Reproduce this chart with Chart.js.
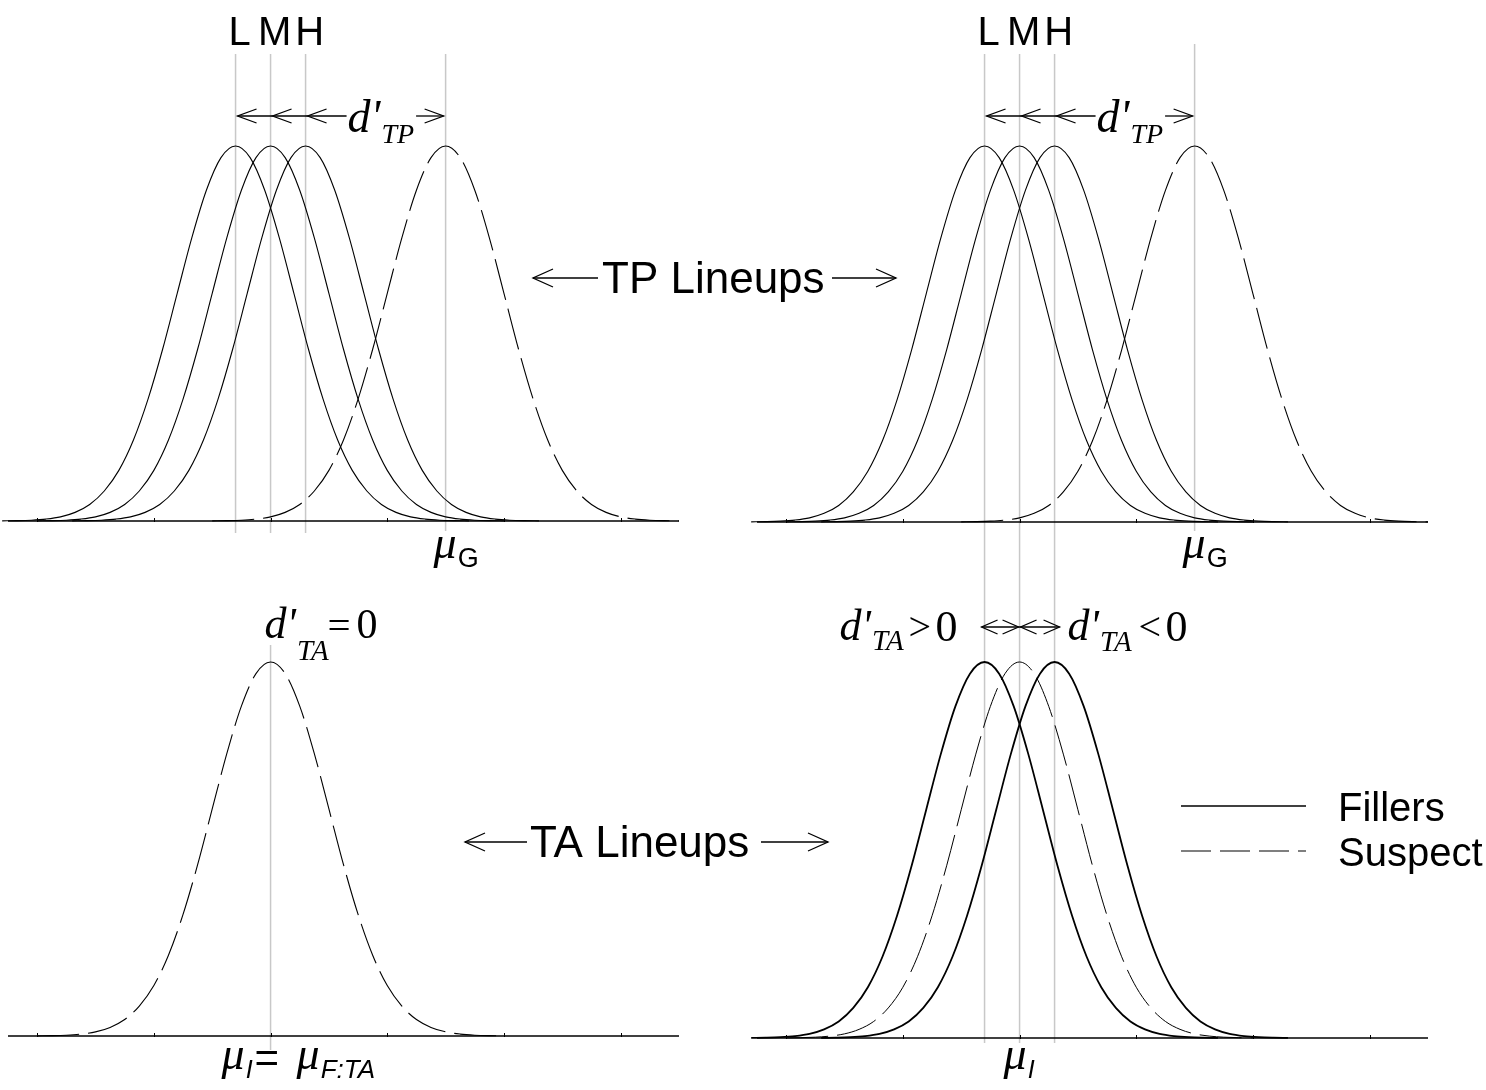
<!DOCTYPE html>
<html>
<head>
<meta charset="utf-8">
<script src="https://cdn.jsdelivr.net/npm/chart.js@4.4.1/dist/chart.umd.min.js"></script>
<style>
  body { margin: 0; background: #fff; width: 1486px; height: 1090px; position: relative; overflow: hidden; }
  canvas { position: absolute; left: 0; }
</style>
</head>
<body>
<canvas id="tpLeft" width="1486" height="580" style="top:0px"></canvas>
<canvas id="tpRight" width="1486" height="580" style="top:0px"></canvas>
<canvas id="taLeft" width="1486" height="510" style="top:580px"></canvas>
<canvas id="taRight" width="1486" height="510" style="top:580px"></canvas>
<script>
// bell profile: offset from the mean (SD units) and height relative to the peak
const profileOffsets = [-4, -3.75, -3.5, -3.25, -3, -2.75, -2.5, -2.25, -2, -1.75, -1.5, -1.25, -1, -0.75, -0.5, -0.25,
  0, 0.25, 0.5, 0.75, 1, 1.25, 1.5, 1.75, 2, 2.25, 2.5, 2.75, 3, 3.25, 3.5, 3.75, 4];
const profileHeights = [0.0003, 0.0009, 0.0022, 0.0051, 0.011, 0.023, 0.044, 0.080, 0.135, 0.216, 0.325, 0.458, 0.607, 0.755, 0.882, 0.969,
  1, 0.969, 0.882, 0.755, 0.607, 0.458, 0.325, 0.216, 0.135, 0.080, 0.044, 0.023, 0.011, 0.0051, 0.0022, 0.0009, 0.0003];

const axisTicks = [-4, -2, 0, 2, 4, 6];
const lineupLevels = ['L', 'M', 'H'];
const tpFillerMeans = [-0.6, 0, 0.6];   // TP lineups, fillers at L / M / H
const tpSuspectMean = 3;                // guilty suspect (mu_G)
const taSuspectMean = 0;                // innocent suspect (mu_I)
const taFillerMeans = [-0.6, 0.6];      // TA fillers, d'TA > 0 and d'TA < 0
const legendLabels = ['Fillers', 'Suspect'];

const GRAY = '#c8c8c8';
const DASH = [42, 9];
const SANS = s => s + 'px "Liberation Sans", Arial, sans-serif';
const SANS_IT = s => 'italic ' + s + 'px "Liberation Sans", Arial, sans-serif';
const SERIF = s => s + 'px "Liberation Serif", "Times New Roman", serif';
const SERIF_IT = s => 'italic ' + s + 'px "Liberation Serif", "Times New Roman", serif';

function curve(mean) {
  return profileOffsets.map((o, i) => ({ x: mean + o, y: profileHeights[i] }));
}

function line(mean, width, dash) {
  return {
    data: curve(mean),
    showLine: true,
    borderColor: '#000',
    borderWidth: width,
    borderDash: dash || [],
    pointRadius: 0,
    cubicInterpolationMode: 'monotone',
    fill: false,
    clip: false
  };
}

function put(ctx, txt, x, y, font) {
  ctx.font = font;
  ctx.fillText(txt, x, y);
  return x + ctx.measureText(txt).width;
}

function seg(ctx, x1, y1, x2, y2) {
  ctx.beginPath();
  ctx.moveTo(x1, y1);
  ctx.lineTo(x2, y2);
  ctx.stroke();
}

// dir 1 = points left, -1 = points right
function head(ctx, tip, y, dir, len, half) {
  len = len || 19; half = half || 7;
  ctx.beginPath();
  ctx.moveTo(tip + dir * len, y - half);
  ctx.lineTo(tip, y);
  ctx.lineTo(tip + dir * len, y + half);
  ctx.stroke();
}

function vline(ctx, x, y1, y2) {
  ctx.save();
  ctx.strokeStyle = GRAY;
  ctx.lineWidth = 1.5;
  seg(ctx, x, y1, x, y2);
  ctx.restore();
}

function axisLine(c) {
  const ctx = c.ctx, a = c.chartArea, x = c.scales.x;
  ctx.save();
  ctx.strokeStyle = '#000';
  ctx.lineWidth = 1.5;
  seg(ctx, a.left, a.bottom, a.right, a.bottom);
  ctx.lineWidth = 1;
  axisTicks.forEach(t => {
    const px = Math.round(x.getPixelForValue(t)) + 0.5;
    seg(ctx, px, a.bottom - 3, px, a.bottom + 1);
  });
  ctx.restore();
}

// mu with a sans subscript right after it
function mu(ctx, x, y, sub, subFont) {
  const e = put(ctx, 'μ', x, y, SERIF_IT(46));
  return put(ctx, sub, e + 1, y + 9, subFont);
}

function makePanel(id, pageTop, pad, datasets, under, over) {
  return new Chart(document.getElementById(id), {
    type: 'scatter',
    data: { datasets },
    options: {
      responsive: false,
      animation: false,
      events: [],
      layout: { padding: pad },
      plugins: { legend: { display: false }, tooltip: { enabled: false } },
      scales: {
        x: { type: 'linear', min: -4.5, max: 7, display: false },
        y: { min: 0, max: 1, display: false }
      }
    },
    plugins: [{
      id: 'sketch',
      beforeDatasetsDraw(c) {
        c.ctx.save();
        c.ctx.translate(0, -pageTop);
        under(c);
        c.ctx.restore();
        axisLine(c);
      },
      afterDatasetsDraw(c) {
        const ctx = c.ctx;
        ctx.save();
        ctx.translate(0, -pageTop);
        ctx.fillStyle = '#000';
        ctx.strokeStyle = '#000';
        ctx.lineWidth = 1.3;
        ctx.textBaseline = 'alphabetic';
        over(c);
        ctx.restore();
      }
    }]
  });
}

// TP panels: L / M / H labels, d'TP arrows and mu_G
function tpOver(c) {
  const ctx = c.ctx, x = c.scales.x;
  const xs = tpFillerMeans.map(m => x.getPixelForValue(m));
  const xg = x.getPixelForValue(tpSuspectMean);
  ctx.textAlign = 'center';
  lineupLevels.forEach((lab, i) => put(ctx, lab, xs[i] + 4, 45, SANS(40)));
  ctx.textAlign = 'left';
  const ay = 116;
  const dx = xs[2] + 41;
  seg(ctx, xs[0] + 2, ay, dx, ay);
  xs.forEach(px => head(ctx, px + 2, ay, 1));
  let tx = put(ctx, "d'", dx + 1, 132, SERIF_IT(46));
  tx = put(ctx, 'TP', tx + 1, 143, SERIF_IT(28));
  seg(ctx, tx + 2, ay, xg - 2, ay);
  head(ctx, xg - 2, ay, -1);
  mu(ctx, xg - 12, 558, 'G', SANS(27));
}

function tpUnder(bottomY, gTop) {
  return c => {
    const x = c.scales.x;
    tpFillerMeans.forEach(m => vline(c.ctx, x.getPixelForValue(m), 54, bottomY));
    vline(c.ctx, x.getPixelForValue(tpSuspectMean), gTop, 531);
  };
}

// top left
makePanel('tpLeft', 0, { left: 8, right: 807, top: 146, bottom: 59 },
  tpFillerMeans.map(m => line(m, 1.1)).concat([line(tpSuspectMean, 1.1, DASH)]),
  tpUnder(533, 54),
  c => {
    tpOver(c);
    const ctx = c.ctx;
    // TP Lineups caption between the two panels
    seg(ctx, 533, 278, 598, 278);
    head(ctx, 533, 278, 1, 20, 9);
    put(ctx, 'TP Lineups', 602, 293, SANS(44));
    seg(ctx, 832, 278, 896, 278);
    head(ctx, 896, 278, -1, 20, 9);
  });

// top right
makePanel('tpRight', 0, { left: 757, right: 58, top: 146, bottom: 58 },
  tpFillerMeans.map(m => line(m, 1.1)).concat([line(tpSuspectMean, 1.1, DASH)]),
  tpUnder(580, 44),
  tpOver);

// bottom left: TA lineup, suspect only
makePanel('taLeft', 580, { left: 8, right: 807, top: 82, bottom: 54 },
  [line(taSuspectMean, 1.1, DASH)],
  c => vline(c.ctx, c.scales.x.getPixelForValue(taSuspectMean), 645, 1050),
  c => {
    const ctx = c.ctx;
    const xs = c.scales.x.getPixelForValue(taSuspectMean);
    const e = put(ctx, "d'", xs - 6, 638, SERIF_IT(44));
    put(ctx, 'TA', e + 1, 660, SERIF_IT(29));
    put(ctx, '=', xs + 57, 639, SERIF(41));
    put(ctx, '0', xs + 86, 638, SERIF(42));
    const i = mu(ctx, xs - 49, 1069, 'I', SANS_IT(25));
    put(ctx, '=', i + 2, 1072, SANS(42));
    mu(ctx, xs + 26, 1069, 'F:TA', SANS_IT(26));
    // TA Lineups caption
    seg(ctx, 465, 842, 527, 842);
    head(ctx, 465, 842, 1, 20, 9);
    put(ctx, 'TA Lineups', 530, 857, SANS(44));
    seg(ctx, 761, 842, 828, 842);
    head(ctx, 828, 842, -1, 20, 9);
  });

// bottom right: TA lineups with fillers either side of the innocent suspect
makePanel('taRight', 580, { left: 757, right: 58, top: 82, bottom: 52 },
  taFillerMeans.map(m => line(m, 1.8)).concat([line(taSuspectMean, 1, DASH)]),
  c => {
    const x = c.scales.x;
    taFillerMeans.concat([taSuspectMean]).forEach(m => vline(c.ctx, x.getPixelForValue(m), 580, 1043));
  },
  c => {
    const ctx = c.ctx, x = c.scales.x;
    const f1 = x.getPixelForValue(taFillerMeans[0]);
    const f2 = x.getPixelForValue(taFillerMeans[1]);
    const s = x.getPixelForValue(taSuspectMean);
    // d'TA > 0
    const a = f1 - 145;
    let e = put(ctx, "d'", a, 640, SERIF_IT(44));
    put(ctx, 'TA', e + 1, 650, SERIF_IT(29));
    put(ctx, '>', a + 69, 640, SERIF(40));
    put(ctx, '0', a + 96, 641, SERIF(44));
    // double arrows
    const ay = 627;
    ctx.lineWidth = 1.3;
    seg(ctx, f1 - 3, ay, s, ay);
    head(ctx, f1 - 3, ay, 1, 16, 7);
    head(ctx, s - 1, ay, -1, 16, 7);
    seg(ctx, s, ay, f2 + 5, ay);
    head(ctx, s + 1, ay, 1, 16, 7);
    head(ctx, f2 + 5, ay, -1, 16, 7);
    // d'TA < 0
    const b = f2 + 13;
    e = put(ctx, "d'", b, 640, SERIF_IT(44));
    put(ctx, 'TA', e + 1, 651, SERIF_IT(29));
    put(ctx, '<', b + 71, 640, SERIF(40));
    put(ctx, '0', b + 98, 641, SERIF(44));
    // mu_I
    mu(ctx, s - 16, 1069, 'I', SANS_IT(25));
    // legend
    ctx.lineWidth = 1.5;
    seg(ctx, 1181, 806, 1306, 806);
    ctx.setLineDash([30, 9]);
    ctx.lineWidth = 1.1;
    seg(ctx, 1181, 851, 1306, 851);
    ctx.setLineDash([]);
    put(ctx, legendLabels[0], 1338, 821, SANS(40));
    put(ctx, legendLabels[1], 1338, 866, SANS(40));
  });
</script>
</body>
</html>
